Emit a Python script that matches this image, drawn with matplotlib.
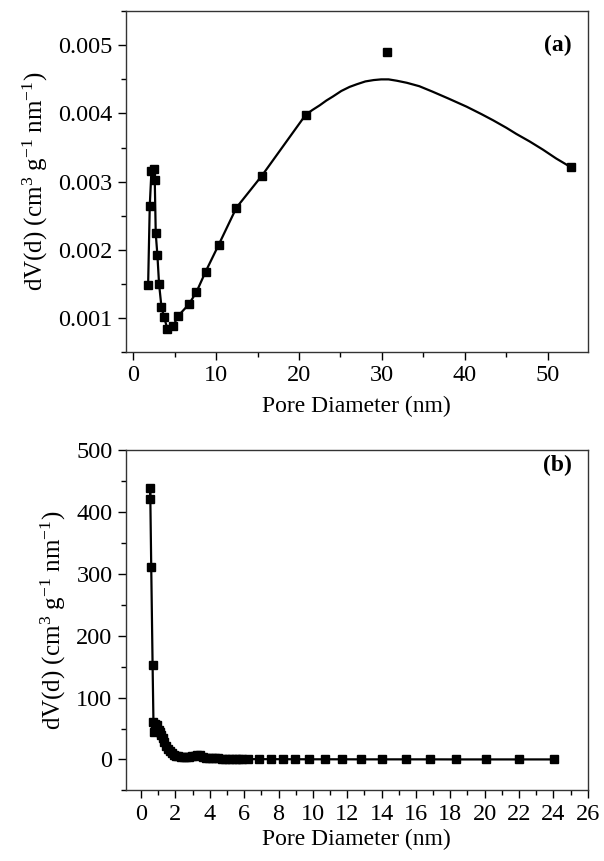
import numpy as np
import matplotlib
matplotlib.use('Agg')
import matplotlib.pyplot as plt
from matplotlib.ticker import MultipleLocator, FixedLocator, FormatStrFormatter

plt.rcParams['font.family'] = ['Liberation Serif']
plt.rcParams['mathtext.fontset'] = 'custom'
plt.rcParams['mathtext.rm'] = 'Liberation Serif'
plt.rcParams['mathtext.it'] = 'Liberation Serif:italic'
plt.rcParams['mathtext.bf'] = 'Liberation Serif:bold'

# (a) measured points
pore_a = [1.81, 2.01, 2.21, 2.53, 2.61, 2.73, 2.93, 3.13, 3.42, 3.74, 4.14, 4.82,
          5.42, 6.71, 7.63, 8.74, 10.3, 12.46, 15.54, 20.8, 30.65, 52.8]
dv_a = [0.00148, 0.00265, 0.00316, 0.00318, 0.00303, 0.00224, 0.00192, 0.0015,
        0.00116, 0.00101, 0.00084, 0.00088, 0.00103, 0.0012, 0.00138, 0.00168,
        0.00207, 0.00262, 0.00309, 0.00398, 0.0049, 0.00321]
# (a) smoothed line beyond 20 nm
fit_x = [21.6, 22.5, 23.3, 24.1, 25.1, 26.1, 27.0, 28.0, 29.0, 29.9, 30.8, 31.8,
         33.0, 34.5, 36.1, 38.0, 40.2, 42.0, 43.4, 45.0, 46.2, 47.8, 49.4, 51.0, 52.8]
fit_y = [0.00405, 0.00412, 0.00419, 0.00425, 0.00433, 0.00439, 0.00443, 0.00447,
         0.00449, 0.0045, 0.0045, 0.00448, 0.00445, 0.0044, 0.00432, 0.00422,
         0.0041, 0.00399, 0.0039, 0.00379, 0.0037, 0.00359, 0.00347, 0.00334, 0.00321]

# (b)
pore_b = [0.52, 0.53, 0.59, 0.67, 0.72, 0.76, 0.82, 0.88, 0.95, 1.02, 1.10, 1.18,
          1.26, 1.35, 1.45, 1.55, 1.66, 1.78, 1.90, 2.03, 2.17, 2.32, 2.48, 2.64,
          2.80, 2.96, 3.12, 3.28, 3.44, 3.60, 3.78, 3.96, 4.14, 4.32, 4.50, 4.70,
          4.90, 5.10, 5.30, 5.50, 5.70, 5.90, 6.20, 6.85, 7.55, 8.25, 8.95, 9.75,
          10.7, 11.7, 12.8, 14.05, 15.4, 16.8, 18.35, 20.1, 22.0, 24.05]
dv_b = [421, 439, 312, 152, 60, 45, 58, 52, 55, 48, 45, 40, 35, 28, 22, 17, 13,
        10, 8, 6, 5, 4, 4, 4, 4, 5, 6, 8, 7, 4, 3, 3, 2.5, 2, 2, 1.5, 1.5, 1, 1,
        1, 0.8, 0.7, 0.6, 0.5, 0.5, 0.4, 0.4, 0.3, 0.3, 0.3, 0.2, 0.2, 0.2, 0.2,
        0.1, 0.1, 0.1, 0.1]

fig = plt.figure(figsize=(6.04, 8.61), dpi=100)
ax1 = fig.add_axes([0.208, 0.591, 0.765, 0.396])
ax2 = fig.add_axes([0.208, 0.082, 0.765, 0.395])

ylab = r'dV(d) (cm$^{3}$ g$^{-1}$ nm$^{-1}$)'

# panel a
line_x = list(pore_a[:20]) + fit_x
line_y = list(dv_a[:20]) + fit_y
ax1.plot(line_x, line_y, color='black', lw=1.6)
ax1.plot(pore_a, dv_a, 's', color='black', ms=6.2)
ax1.set_xlim(-0.9, 54.8)
ax1.set_ylim(0.0005, 0.0055)
ax1.xaxis.set_major_locator(MultipleLocator(10))
ax1.xaxis.set_minor_locator(MultipleLocator(5))
ax1.yaxis.set_major_locator(FixedLocator([0.001, 0.002, 0.003, 0.004, 0.005]))
ax1.yaxis.set_minor_locator(MultipleLocator(0.0005))
ax1.yaxis.set_major_formatter(FormatStrFormatter('%.3f'))
ax1.set_xlabel('Pore Diameter (nm)', fontsize=17, labelpad=7)
ax1.set_ylabel(ylab, fontsize=18, labelpad=6)
ax1.text(0.965, 0.90, '(a)', transform=ax1.transAxes, ha='right', va='center',
         fontsize=17, fontweight='bold')

# panel b
ax2.plot(pore_b, dv_b, 's-', color='black', lw=1.6, ms=6.2)
ax2.set_xlim(-0.9, 26)
ax2.set_ylim(-50, 500)
ax2.xaxis.set_major_locator(MultipleLocator(2))
ax2.xaxis.set_minor_locator(MultipleLocator(1))
ax2.yaxis.set_major_locator(MultipleLocator(100))
ax2.yaxis.set_minor_locator(MultipleLocator(50))
ax2.set_xlabel('Pore Diameter (nm)', fontsize=17, labelpad=3)
ax2.set_ylabel(ylab, fontsize=18, labelpad=6)
ax2.text(0.965, 0.955, '(b)', transform=ax2.transAxes, ha='right', va='center',
         fontsize=17, fontweight='bold')

for ax in (ax1, ax2):
    for s in ax.spines.values():
        s.set_linewidth(1.0)
        s.set_color('#333333')
    ax.tick_params(which='major', direction='out', length=6, width=1.0,
                   labelsize=17.5, top=False, right=False)
    ax.tick_params(which='minor', direction='out', length=3.5, width=1.0,
                   top=False, right=False)

fig.savefig('out.png', dpi=100)
